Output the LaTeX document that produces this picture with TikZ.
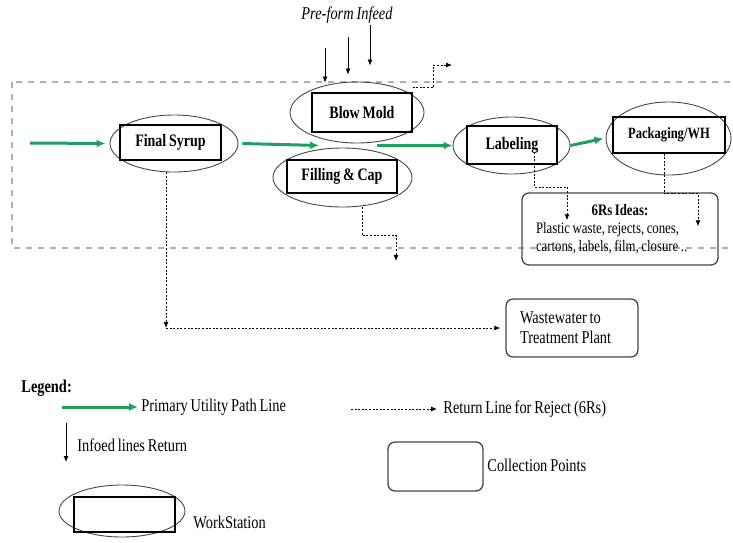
\documentclass[tikz,border=0pt]{standalone}
\usepackage{fontspec}
\setmainfont{Liberation Serif}[FakeStretch=0.8,WordSpace=0.8]
\usetikzlibrary{arrows.meta,shapes.geometric}
\definecolor{flowgreen}{RGB}{30,160,95}
\definecolor{zonegray}{RGB}{165,182,176}
\definecolor{inkgray}{RGB}{70,70,70}
\begin{document}
\begin{tikzpicture}[x=1pt,y=-1pt,>={Latex[length=6pt,width=5pt]},line width=.8pt,
  wsring/.style={ellipse,draw=inkgray,line width=.9pt,inner sep=0pt},
  wsbox/.style={draw=black,line width=1.1pt,inner sep=0pt,font=\fontsize{17.5}{20}\selectfont\bfseries},
  collect/.style={draw=inkgray,rounded corners=7pt,line width=1.3pt,inner sep=0pt},
  mainflow/.style={-{Latex[length=9pt,width=8pt]},draw=flowgreen,line width=3pt},
  reject/.style={->,dash pattern=on 2pt off 1.6pt,line width=.9pt},
  infeed/.style={->,line width=.8pt},
  legtext/.style={anchor=west,inner sep=0pt,font=\fontsize{18}{20}\selectfont}]
  \useasboundingbox (0,0) rectangle (733,542);
  \draw[zonegray,line width=1.1pt,dash pattern=on 6pt off 6pt] (12,82) rectangle (745,248);
  \node[wsring,minimum width=128,minimum height=57] (syrupE) at (174,143.5) {};
  \node[wsbox,minimum width=101,minimum height=35] (syrup) at (170.5,142.5) {Final Syrup};
  \node[wsring,minimum width=134,minimum height=61] (blowE) at (357,112.5) {};
  \node[wsbox,minimum width=100,minimum height=39] (blow) at (362,112.5) {Blow Mold};
  \node[wsring,minimum width=139,minimum height=59] (fillE) at (342.5,177.5) {};
  \node[wsbox,minimum width=110,minimum height=33] (fill) at (342,176.5) {Filling \& Cap};
  \node[wsring,minimum width=117,minimum height=57] (labelE) at (511.5,145.5) {};
  \node[wsbox,minimum width=90,minimum height=38] (label) at (512,145) {Labeling};
  \node[wsring,minimum width=125,minimum height=73] (packE) at (668.5,138.5) {};
  \node[wsbox,minimum width=112,minimum height=36,font=\fontsize{15.7}{18}\selectfont\bfseries] (pack) at (669,135) {Packaging/WH};
  \node[collect,minimum width=196,minimum height=72,text width=168pt,align=left,font=\fontsize{16}{18}\selectfont] (ideas) at (620,229)
    {\spaceskip=0pt\relax\centering\textbf{6Rs Ideas:}\par\raggedright Plastic waste, rejects, cones,\\cartons, labels, film, closure ..};
  \node[collect,minimum width=132,minimum height=58,text width=104pt,align=left,font=\fontsize{18}{20}\selectfont] (waste) at (572,328)
    {\spaceskip=0pt\relax Wastewater to\\Treatment Plant};
  \node[font=\fontsize{18}{20}\selectfont\itshape] (preform) at (347,15) {Pre-form Infeed};
  \foreach \n/\x/\y in {A/325/48,B/348/37,C/370/25}
    \coordinate (feed\n) at (\x,\y);
  \draw[infeed] (feedA) -- ([shift={(-32,1)}]blowE.north);
  \draw[infeed] (feedB) -- ([shift={(-9,-7)}]blowE.north);
  \draw[infeed] (feedC) -- ([shift={(13,-16)}]blowE.north);
  \coordinate (inlet) at (30,143);
  \coordinate (merge) at (319,145.5);
  \coordinate (split) at (377,145.5);
  \draw[mainflow] (inlet) -- ([xshift=-4pt]syrupE.west);
  \draw[mainflow] ([xshift=4pt]syrupE.east) -- (merge);
  \draw[mainflow] (split) -- (labelE.west);
  \draw[mainflow] (labelE.east) -- ([xshift=-2pt]packE.west);
  \coordinate (blowOut) at (452,65);
  \draw[reject] ([yshift=5pt]blow.north east) -- ++(21,0) |- (blowOut);
  \coordinate (fillOut) at (396,261);
  \draw[reject] ([xshift=19.5pt]fillE.south) -- ++(0,28) -| (fillOut);
  \draw[reject] ([shift={(22,7)}]label.center) -- ++(0,35) -| ([shift={(-53,28)}]ideas.north);
  \draw[reject] ([xshift=-5pt]pack.south) -- ++(0,40) -| ([shift={(78,34)}]ideas.north);
  \coordinate (sink) at (166,328);
  \draw[reject] ([xshift=-8pt]syrupE.south) -- (sink);
  \draw[reject,shorten >=5pt] (sink) -- (waste.west);
  \node[legtext,font=\fontsize{18}{20}\selectfont\bfseries] (legend) at (21,388) {Legend:};
  \coordinate (keyFlowA) at (62,407);
  \coordinate (keyFlowB) at (138,407);
  \draw[mainflow] (keyFlowA) -- (keyFlowB);
  \node[legtext] (keyFlowTxt) at (141,407) {Primary Utility Path Line};
  \coordinate (keyRejA) at (351,409);
  \coordinate (keyRejB) at (437,409);
  \draw[reject] (keyRejA) -- (keyRejB);
  \node[legtext] (keyRejTxt) at (443,409) {Return Line for Reject (6Rs)};
  \coordinate (keyFeedA) at (66,423);
  \coordinate (keyFeedB) at (66,462);
  \draw[infeed] (keyFeedA) -- (keyFeedB);
  \node[legtext] (keyFeedTxt) at (77,445) {Infoed lines Return};
  \node[collect,minimum width=95,minimum height=49] (keyCollect) at (435.5,466.5) {};
  \node[legtext] (keyCollectTxt) at (487,465) {Collection Points};
  \node[wsring,minimum width=126,minimum height=52] (keyRing) at (122,511) {};
  \node[wsbox,minimum width=101,minimum height=35] (keyBox) at (124.5,514.5) {};
  \node[legtext] (keyRingTxt) at (193,522) {WorkStation};
\end{tikzpicture}
\end{document}
